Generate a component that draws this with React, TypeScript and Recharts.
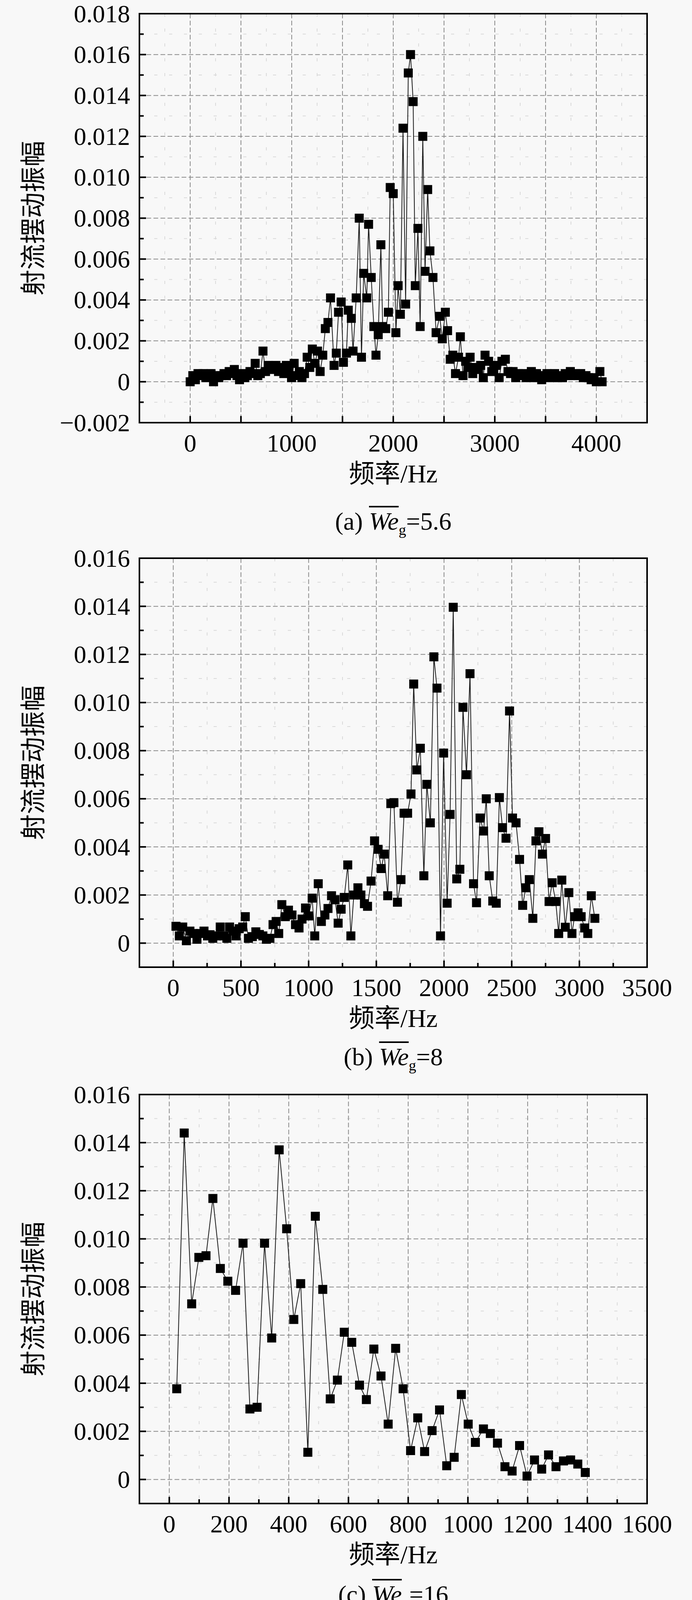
import React from 'react';
import { LineChart, Line, XAxis, YAxis, CartesianGrid, ReferenceArea, Legend } from 'recharts';

// [frequency (Hz), jet swing amplitude]
const weG56: number[][] = [
  [0, 0.0000], [26, 0.0003], [51, 0.0001], [77, 0.0004], [102, 0.0003], [128, 0.0004], [154, 0.0002],
  [179, 0.0003], [205, 0.0004], [230, 0.0000], [256, 0.0003], [282, 0.0002], [307, 0.0003], [333, 0.0004],
  [358, 0.0003], [384, 0.0005], [410, 0.0004], [435, 0.0006], [461, 0.0003], [486, 0.0001], [512, 0.0004],
  [538, 0.0002], [563, 0.0003], [589, 0.0005], [614, 0.0004], [640, 0.0009], [666, 0.0003], [691, 0.0004],
  [717, 0.0015], [742, 0.0005], [768, 0.0008], [794, 0.0006], [819, 0.0007], [845, 0.0008], [870, 0.0005],
  [896, 0.0007], [922, 0.0004], [947, 0.0008], [973, 0.0006], [998, 0.0002], [1024, 0.0009], [1050, 0.0003],
  [1075, 0.0005], [1101, 0.0002], [1126, 0.0004], [1152, 0.0012], [1178, 0.0007], [1203, 0.0016],
  [1229, 0.0009], [1254, 0.0015], [1280, 0.0005], [1306, 0.0013], [1331, 0.0026], [1357, 0.0029],
  [1382, 0.0041], [1417, 0.0008], [1439, 0.0014], [1461, 0.0034], [1487, 0.0039], [1509, 0.00095],
  [1539, 0.0014], [1557, 0.0035], [1587, 0.0031], [1604, 0.0015], [1635, 0.0041], [1665, 0.0080],
  [1687, 0.0012], [1709, 0.0053], [1739, 0.0041], [1757, 0.0077], [1783, 0.0051], [1809, 0.0027],
  [1830, 0.0013], [1852, 0.0023], [1878, 0.0067], [1896, 0.0027], [1926, 0.0026], [1952, 0.0034],
  [1970, 0.0095], [2000, 0.0092], [2026, 0.0024], [2048, 0.0047], [2070, 0.0033], [2096, 0.0124],
  [2122, 0.0038], [2148, 0.0151], [2170, 0.0160], [2196, 0.0137], [2217, 0.0047], [2243, 0.0075],
  [2265, 0.0027], [2291, 0.0120], [2313, 0.0054], [2339, 0.0094], [2361, 0.0064], [2391, 0.0051],
  [2422, 0.0024], [2457, 0.0032], [2483, 0.0021], [2513, 0.0034], [2535, 0.0025], [2561, 0.0011],
  [2587, 0.0013], [2613, 0.0004], [2643, 0.0012], [2661, 0.0022], [2687, 0.0003], [2713, 0.0010],
  [2735, 0.0007], [2757, 0.0012], [2783, 0.0004], [2817, 0.0007], [2840, 0.0006], [2861, 0.0008],
  [2887, 0.0002], [2904, 0.0013], [2939, 0.0010], [2970, 0.0005], [2990, 0.0006], [3013, 0.0008],
  [3043, 0.0002], [3070, 0.0010], [3104, 0.0011], [3130, 0.0005], [3155, 0.0004], [3180, 0.0005],
  [3206, 0.0002], [3232, 0.0004], [3257, 0.0003], [3283, 0.0004], [3309, 0.0002], [3334, 0.0003],
  [3360, 0.0005], [3386, 0.0002], [3411, 0.0004], [3437, 0.0003], [3462, 0.0001], [3488, 0.0003],
  [3514, 0.0004], [3539, 0.0002], [3565, 0.0003], [3590, 0.0004], [3616, 0.0002], [3642, 0.0003],
  [3667, 0.0002], [3693, 0.0004], [3718, 0.0003], [3744, 0.0005], [3770, 0.0003], [3795, 0.0004],
  [3821, 0.0003], [3846, 0.0004], [3872, 0.0002], [3898, 0.0003], [3923, 0.0002], [3949, 0.0001],
  [3974, 0.0002], [4000, 0.0000], [4035, 0.0005], [4057, 0.0000],
];

const weG8: number[][] = [
  [20, 0.0007], [45, 0.0003], [70, 0.00067], [97, 0.0001], [123, 0.0005], [149, 0.0004], [175, 0.00016],
  [200, 0.0004], [227, 0.0005], [253, 0.0003], [272, 0.00035], [292, 0.0002], [318, 0.0003], [347, 0.00067],
  [373, 0.0003], [396, 0.0002], [416, 0.00067], [442, 0.0005], [464, 0.0003], [487, 0.0006], [513, 0.00067],
  [532, 0.0011], [555, 0.0002], [584, 0.00027], [610, 0.00047], [636, 0.00036], [662, 0.0003], [688, 0.00016],
  [714, 0.0002], [737, 0.00077], [760, 0.0009], [779, 0.0004], [802, 0.0016], [828, 0.0011], [851, 0.00137],
  [877, 0.00117], [903, 0.00077], [929, 0.00063], [951, 0.001], [977, 0.00146], [1000, 0.00113],
  [1026, 0.00187], [1045, 0.0003], [1071, 0.00247], [1094, 0.0009], [1120, 0.00117], [1143, 0.00144],
  [1169, 0.00197], [1195, 0.0018], [1218, 0.00083], [1240, 0.00141], [1263, 0.0019], [1289, 0.00325],
  [1312, 0.0003], [1334, 0.002], [1364, 0.0023], [1386, 0.002], [1412, 0.00164], [1435, 0.00153],
  [1461, 0.00258], [1487, 0.00425], [1513, 0.0039], [1536, 0.0031], [1558, 0.0037], [1584, 0.00197],
  [1607, 0.0058], [1630, 0.00584], [1656, 0.0017], [1682, 0.00264], [1705, 0.0054], [1731, 0.0054],
  [1756, 0.0062], [1776, 0.01077], [1799, 0.0072], [1825, 0.0081], [1851, 0.0028], [1873, 0.0066],
  [1899, 0.005], [1925, 0.0119], [1948, 0.0106], [1974, 0.0003], [1997, 0.0079], [2023, 0.00166],
  [2045, 0.00535], [2068, 0.01396], [2094, 0.00267], [2117, 0.00307], [2140, 0.0098], [2166, 0.007],
  [2192, 0.0112], [2218, 0.00247], [2240, 0.00168], [2266, 0.0052], [2292, 0.00466], [2312, 0.006],
  [2334, 0.0028], [2360, 0.00175], [2386, 0.00166], [2409, 0.00605], [2432, 0.0048], [2458, 0.00436],
  [2484, 0.00965], [2506, 0.0052], [2532, 0.005], [2558, 0.00348], [2581, 0.00157], [2604, 0.0023],
  [2630, 0.00264], [2656, 0.00103], [2679, 0.00425], [2701, 0.00463], [2727, 0.0037], [2750, 0.00435],
  [2776, 0.00173], [2799, 0.00251], [2825, 0.00173], [2847, 0.0004], [2870, 0.00262], [2896, 0.00066],
  [2922, 0.0021], [2945, 0.0004], [2964, 0.0011], [2990, 0.00126], [3013, 0.0011], [3039, 0.00063],
  [3062, 0.0004], [3088, 0.00197], [3114, 0.00103],
];

const weG16: number[][] = [
  [25, 0.00377], [50, 0.0144], [75, 0.0073], [99, 0.00923], [123, 0.0093], [146, 0.01168], [171, 0.00877],
  [196, 0.00824], [222, 0.00786], [247, 0.00982], [270, 0.00293], [294, 0.003], [319, 0.00982], [343, 0.00588],
  [368, 0.0137], [393, 0.01042], [417, 0.00665], [440, 0.00814], [464, 0.00113], [489, 0.01094], [514, 0.0079],
  [539, 0.00335], [563, 0.00413], [586, 0.00612], [611, 0.0057], [637, 0.00392], [660, 0.00332], [685, 0.00542],
  [709, 0.0043], [733, 0.0023], [758, 0.00545], [783, 0.00377], [808, 0.0012], [832, 0.00256], [855, 0.00116],
  [880, 0.00203], [905, 0.00289], [929, 0.00057], [954, 0.00092], [978, 0.00353], [1001, 0.0023],
  [1025, 0.00154], [1052, 0.0021], [1075, 0.00191], [1099, 0.00151], [1124, 0.00053], [1148, 0.00035],
  [1173, 0.00141], [1198, 0.00014], [1223, 0.00081], [1247, 0.00043], [1270, 0.00102], [1295, 0.00053],
  [1320, 0.00077], [1344, 0.00081], [1368, 0.00064], [1393, 0.00029],
];

const weG40: number[][] = [
  [23, 0.00154], [48, 0.00044], [73, 0.00133], [96, 0.0005], [121, 0.00213], [144, 0.00086], [169, 0.00086],
  [192, 0.00275], [217, 0.00158], [243, 0.00012], [266, 0.00213], [291, 0.00275], [316, 0.00125],
  [339, 0.00154], [364, 0.00166], [390, 0.00211], [412, 0.00593], [438, 0.00162], [463, 0.00351],
  [486, 0.00462], [511, 0.00266], [537, 0.0026], [559, 0.001], [585, 0.0031], [607, 0.00285], [633, 0.00623],
  [658, 0.00402], [681, 0.00219], [706, 0.00832], [732, 0.00645], [757, 0.00425], [780, 0.00725],
  [805, 0.00349], [831, 0.00417], [853, 0.00254], [879, 0.00793], [904, 0.00351], [927, 0.00105],
  [952, 0.00848], [977, 0.00462], [1000, 0.0053], [1025, 0.00402], [1051, 0.00629], [1073, 0.00417],
  [1099, 0.01012], [1124, 0.00536], [1147, 0.00303], [1172, 0.01233], [1198, 0.00462], [1223, 0.00482],
  [1246, 0.00598], [1271, 0.00154], [1294, 0.00904], [1319, 0.00762], [1345, 0.00327], [1367, 0.00793],
  [1393, 0.00306], [1415, 0.00556], [1441, 0.00497], [1466, 0.00735], [1489, 0.00121], [1514, 0.00395],
  [1540, 0.00692], [1562, 0.00682], [1588, 0.00528], [1613, 0.00494], [1636, 0.01052], [1661, 0.00519],
  [1686, 0.00382], [1709, 0.00139], [1734, 0.00466], [1760, 0.00895], [1782, 0.00349], [1808, 0.00047],
  [1831, 0.00457], [1856, 0.00078], [1881, 0.00105], [1904, 0.00306], [1929, 0.00361], [1955, 0.00222],
  [1977, 0.00133], [2003, 0.00154], [2025, 0.00297], [2051, 0.00275], [2073, 0.0001], [2099, 0.00078],
  [2124, 0.00186], [2147, 0.00121], [2172, 0.00142], [2198, 0.0008], [2220, 0.00142], [2246, 0.00096],
  [2271, 0.00028], [2294, 0.00074], [2319, 0.00133], [2345, 0.00133], [2367, 0.00121], [2393, 0.00158],
  [2418, 0.00092], [2441, 0.00062], [2466, 0.00137], [2492, 0.00109], [2514, 0.00096], [2540, 0.00043],
  [2565, 0.00096], [2588, 0.00109], [2613, 0.00016], [2636, 0.00105],
];

// tick labels
const xLabA = [0, 1000, 2000, 3000, 4000];
const xGridA = [0, 500, 1000, 1500, 2000, 2500, 3000, 3500, 4000];
const xLab3500 = [0, 500, 1000, 1500, 2000, 2500, 3000, 3500];
const xLab1600 = [0, 200, 400, 600, 800, 1000, 1200, 1400, 1600];
const xLab3000 = [0, 500, 1000, 1500, 2000, 2500, 3000];
const yLab18 = [-0.002, 0, 0.002, 0.004, 0.006, 0.008, 0.01, 0.012, 0.014, 0.016, 0.018];
const yLab16 = [0, 0.002, 0.004, 0.006, 0.008, 0.01, 0.012, 0.014, 0.016];
const yLab14 = [0, 0.002, 0.004, 0.006, 0.008, 0.01, 0.012, 0.014];

const FONT = "'Liberation Serif', 'Times New Roman', 'Noto Sans CJK SC', serif";
const BG = '#f8f8f8';
const PLOT_L = 357;
const PLOT_W = 1300;
const PLOT_H = 1047;
const PAD_T = 40;
const PAD_B = 180;
const CHART_W = 1772;
const CHART_H = PAD_T + PLOT_H + PAD_B;

const COLORS = { g56: '#4a4a4a', g8: '#ee3440', g16: '#1e66d8', g40: '#2f9e78' };

type Shape = 'square' | 'circle' | 'up' | 'down';
type Pt = { f: number; a: number };

const toPts = (rows: number[][]): Pt[] => rows.map(([f, a]) => ({ f, a }));
const mids = (arr: number[]) => arr.slice(1).map((v, i) => (v + arr[i]) / 2);
const near = (arr: number[], v: number) => arr.some((a) => Math.abs(a - v) < 1e-9);
const fmtY = (v: number) =>
  Math.abs(v) < 1e-12 ? '0' : v < 0 ? `\u2212${Math.abs(v).toFixed(3)}` : v.toFixed(3);

function Marker({ cx, cy, shape, color, size }: { cx: number; cy: number; shape: Shape; color: string; size: number }) {
  const h = size / 2;
  if (shape === 'circle') return <circle cx={cx} cy={cy} r={h} fill={color} />;
  if (shape === 'up')
    return <polygon points={`${cx},${cy - size * 0.55} ${cx - h},${cy + size * 0.4} ${cx + h},${cy + size * 0.4}`} fill={color} />;
  if (shape === 'down')
    return <polygon points={`${cx},${cy + size * 0.55} ${cx - h},${cy - size * 0.4} ${cx + h},${cy - size * 0.4}`} fill={color} />;
  return <rect x={cx - h} y={cy - h} width={size} height={size} fill={color} />;
}

const dotFn = (shape: Shape, color: string, size: number) => (p: any) => {
  if (p.cx == null || p.cy == null) return <g key={`n${p.index}`} />;
  return <Marker key={`d${p.index}`} cx={p.cx} cy={p.cy} shape={shape} color={color} size={size} />;
};

const makeXTick = (labels: number[], major: number[]) => (props: any) => {
  const { x, y, payload } = props;
  const v = payload.value;
  return (
    <g>
      <line x1={x} x2={x} y1={y} y2={y - (near(major, v) ? 17 : 11)} stroke="#000" strokeWidth={4} />
      {near(labels, v) && (
        <text x={x} y={y + 52} textAnchor="middle" dominantBaseline="central" fontFamily={FONT} fontSize={64} fill="#000">
          {v}
        </text>
      )}
    </g>
  );
};

const makeYTick = (labels: number[]) => (props: any) => {
  const { x, y, payload } = props;
  const v = payload.value;
  const lab = near(labels, v);
  return (
    <g>
      <line x1={x} x2={x + (lab ? 17 : 11)} y1={y} y2={y} stroke="#000" strokeWidth={4} />
      {lab && (
        <text x={x - 24} y={y} textAnchor="end" dominantBaseline="central" fontFamily={FONT} fontSize={64} fill="#000">
          {fmtY(v)}
        </text>
      )}
    </g>
  );
};

const We = () => (
  <>
    <span style={{ fontStyle: 'italic', textDecoration: 'overline', textDecorationThickness: '4px' }}>We</span>
    <sub style={{ fontSize: '0.6em', verticalAlign: '-0.35em', lineHeight: 0 }}>g</sub>
  </>
);

interface SeriesDef {
  key: string;
  rows: number[][];
  color: string;
  line: string;
  shape: Shape;
  size: number;
  width: number;
}

interface PanelDef {
  plotTop: number;
  xDomain: [number, number];
  xLabels: number[];
  xGrid: number[];
  xTicks: number[];
  xFaint: number[];
  yDomain: [number, number];
  yLabels: number[];
  yTicks: number[];
  yFaint: number[];
  series: SeriesDef[];
  legend?: boolean;
}

const LEGEND_ROWS = [
  { name: '5.6', shape: 'square' as Shape, color: COLORS.g56, line: '#444', size: 19 },
  { name: '8', shape: 'circle' as Shape, color: COLORS.g8, line: '#e0555d', size: 23 },
  { name: '16', shape: 'up' as Shape, color: COLORS.g16, line: '#444', size: 27 },
  { name: '40', shape: 'down' as Shape, color: COLORS.g40, line: '#444', size: 27 },
];

const LegendBox = () => (
  <div style={{ position: 'relative', width: 362, height: 363, background: BG, fontFamily: FONT, fontSize: 64, color: '#000' }}>
    {LEGEND_ROWS.map((r, i) => (
      <div key={r.name} style={{ position: 'absolute', left: 0, top: 47 + i * 92 - 40, height: 80, display: 'flex', alignItems: 'center', lineHeight: 1 }}>
        <svg width={137} height={80} style={{ display: 'block' }}>
          <line x1={0} x2={124} y1={40} y2={40} stroke={r.line} strokeWidth={3} />
          <Marker cx={62} cy={40} shape={r.shape} color={r.color} size={r.size} />
        </svg>
        <span style={{ whiteSpace: 'nowrap' }}>
          <We />={r.name}
        </span>
      </div>
    ))}
  </div>
);

function Panel({ def }: { def: PanelDef }) {
  const cy = PAD_T + PLOT_H / 2;
  const cx = PLOT_L + PLOT_W / 2;
  return (
    <div style={{ position: 'absolute', left: 0, top: def.plotTop - PAD_T }}>
      <LineChart width={CHART_W} height={CHART_H} margin={{ top: PAD_T, right: CHART_W - PLOT_L - PLOT_W, bottom: 0, left: 0 }}>
        <CartesianGrid horizontalValues={def.yFaint} verticalValues={def.xFaint} stroke="#d9d9d9" strokeDasharray="8 30" strokeWidth={2} />
        <CartesianGrid horizontalValues={def.yLabels} verticalValues={def.xGrid} stroke="#8a8a8a" strokeDasharray="12 6" strokeWidth={2} />
        <XAxis
          type="number"
          dataKey="f"
          domain={def.xDomain}
          ticks={def.xTicks}
          interval={0}
          allowDataOverflow
          height={PAD_B}
          axisLine={false}
          tickLine={false}
          tickSize={0}
          tickMargin={0}
          tick={makeXTick(def.xLabels, def.xGrid)}
          label={{
            content: () => (
              <text x={cx} y={PAD_T + PLOT_H + 130} textAnchor="middle" dominantBaseline="central" fontFamily={FONT} fontSize={66} fill="#000">
                频率/Hz
              </text>
            ),
          }}
        />
        <YAxis
          type="number"
          domain={def.yDomain}
          ticks={def.yTicks}
          interval={0}
          allowDataOverflow
          width={PLOT_L}
          axisLine={false}
          tickLine={false}
          tickSize={0}
          tickMargin={0}
          tick={makeYTick(def.yLabels)}
          label={{
            content: () => (
              <text x={85} y={cy} transform={`rotate(-90 85 ${cy})`} textAnchor="middle" dominantBaseline="central" fontFamily={FONT} fontSize={66} fill="#000">
                射流摆动振幅
              </text>
            ),
          }}
        />
        {def.series.map((s) => (
          <Line
            key={s.key}
            name={s.key}
            data={toPts(s.rows)}
            dataKey="a"
            type="linear"
            stroke={s.line}
            strokeWidth={s.width}
            dot={dotFn(s.shape, s.color, s.size)}
            activeDot={false}
            isAnimationActive={false}
          />
        ))}
        <ReferenceArea
          x1={def.xDomain[0]}
          x2={def.xDomain[1]}
          y1={def.yDomain[0]}
          y2={def.yDomain[1]}
          fill="none"
          stroke="#000"
          strokeWidth={4}
          ifOverflow="visible"
        />
        {def.legend && (
          <Legend
            layout="vertical"
            align="center"
            verticalAlign="middle"
            wrapperStyle={{ left: 1288, top: 5573 - (def.plotTop - PAD_T), width: 362 }}
            content={() => <LegendBox />}
          />
        )}
      </LineChart>
    </div>
  );
}

const black = (rows: number[][], key: string): SeriesDef => ({ key, rows, color: '#000', line: '#1a1a1a', shape: 'square', size: 23, width: 2 });

const yMinor18 = mids(yLab18);
const yMinor16 = [-0.001, ...mids(yLab16)];
const yMinor14 = [-0.001, ...mids(yLab14)];

const panels: PanelDef[] = [
  {
    plotTop: 35,
    xDomain: [-500, 4500],
    xLabels: xLabA,
    xGrid: xGridA,
    xTicks: xGridA,
    xFaint: [-250, ...mids(xGridA), 4250],
    yDomain: [-0.002, 0.018],
    yLabels: yLab18,
    yTicks: [...yLab18, ...yMinor18],
    yFaint: yMinor18,
    series: [black(weG56, 'a')],
  },
  {
    plotTop: 1429,
    xDomain: [-250, 3500],
    xLabels: xLab3500,
    xGrid: xLab3500,
    xTicks: [...xLab3500, ...mids(xLab3500)],
    xFaint: mids(xLab3500),
    yDomain: [-0.001, 0.016],
    yLabels: yLab16,
    yTicks: [...yLab16, ...yMinor16],
    yFaint: yMinor16,
    series: [black(weG8, 'b')],
  },
  {
    plotTop: 2802,
    xDomain: [-100, 1600],
    xLabels: xLab1600,
    xGrid: xLab1600,
    xTicks: [...xLab1600, ...mids(xLab1600)],
    xFaint: mids(xLab1600),
    yDomain: [-0.001, 0.016],
    yLabels: yLab16,
    yTicks: [...yLab16, ...yMinor16],
    yFaint: yMinor16,
    series: [black(weG16, 'c')],
  },
  {
    plotTop: 4178,
    xDomain: [-250, 3000],
    xLabels: xLab3000,
    xGrid: xLab3000,
    xTicks: [...xLab3000, ...mids(xLab3000)],
    xFaint: mids(xLab3000),
    yDomain: [-0.001, 0.014],
    yLabels: yLab14,
    yTicks: [...yLab14, ...yMinor14],
    yFaint: yMinor14,
    series: [black(weG40, 'd')],
  },
  {
    plotTop: 5554,
    xDomain: [-250, 3500],
    xLabels: xLab3500,
    xGrid: xLab3500,
    xTicks: [...xLab3500, ...mids(xLab3500)],
    xFaint: mids(xLab3500),
    yDomain: [-0.002, 0.018],
    yLabels: yLab18,
    yTicks: [...yLab18, ...yMinor18],
    yFaint: yMinor18,
    legend: true,
    series: [
      { key: '5.6', rows: weG56.filter(([f]) => f <= 3110), color: COLORS.g56, line: COLORS.g56, shape: 'square', size: 20, width: 5.5 },
      { key: '8', rows: weG8, color: COLORS.g8, line: COLORS.g8, shape: 'circle', size: 24, width: 5.5 },
      { key: '16', rows: weG16, color: COLORS.g16, line: COLORS.g16, shape: 'up', size: 28, width: 5.5 },
      { key: '40', rows: weG40, color: COLORS.g40, line: COLORS.g40, shape: 'down', size: 28, width: 5.5 },
    ],
  },
];

const captions: { y: number; content: React.ReactNode }[] = [
  { y: 1335, content: <>(a) <We />=5.6</> },
  { y: 2706, content: <>(b) <We />=8</> },
  { y: 4082, content: <>(c) <We />=16</> },
  { y: 5461, content: <>(d) <We />=40</> },
  { y: 6823, content: <>(e) <i>k</i>=0</> },
];

export default function App() {
  return (
    <div style={{ position: 'absolute', left: 0, top: 0, width: 1772, height: 6863, background: BG, overflow: 'hidden', fontFamily: FONT }}>
      {panels.map((p, i) => (
        <Panel key={i} def={p} />
      ))}
      {captions.map((c, i) => (
        <div
          key={i}
          style={{ position: 'absolute', left: PLOT_L, width: PLOT_W, top: c.y - 40, height: 80, lineHeight: '80px', textAlign: 'center', fontSize: 64, color: '#000', whiteSpace: 'nowrap' }}
        >
          {c.content}
        </div>
      ))}
    </div>
  );
}
